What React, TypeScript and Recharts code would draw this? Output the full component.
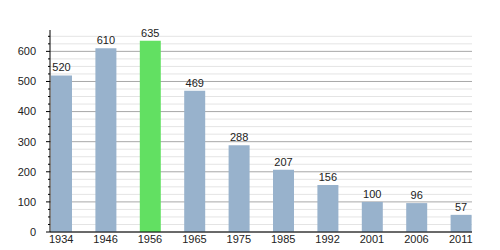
import { BarChart, Bar, XAxis, YAxis, CartesianGrid, Cell, LabelList } from "recharts";

const years = ["1934", "1946", "1956", "1965", "1975", "1985", "1992", "2001", "2006", "2011"];
const population = [520, 610, 635, 469, 288, 207, 156, 100, 96, 57];
const highlightYear = "1956";
const majorTicks = [0, 100, 200, 300, 400, 500, 600];
const minorTicks = [25, 50, 75, 125, 150, 175, 225, 250, 275, 325, 350, 375, 425, 450, 475, 525, 550, 575, 625, 650];
const allTicks = [...majorTicks, ...minorTicks].sort((a, b) => a - b);

const data = years.map((year, i) => ({ year, value: population[i] }));

const font = "'Liberation Sans', Arial, sans-serif";

function YTick(props: any) {
  const { x, y, payload } = props;
  const major = payload.value % 100 === 0;
  return (
    <g>
      <line x1={x - (major ? 4 : 2)} x2={x} y1={y} y2={y} stroke="#000" strokeWidth={1} />
      {major && (
        <text x={x - 14} y={y} dy="0.35em" textAnchor="end" fontSize={11} fontFamily={font} fill="#222">
          {payload.value}
        </text>
      )}
    </g>
  );
}

export default function App() {
  return (
    <div style={{ position: "absolute", left: 0, top: 0 }}>
      <BarChart
        width={500}
        height={250}
        data={data}
        margin={{ top: 30, right: 28, left: 0, bottom: 0 }}
      >
        <CartesianGrid horizontalValues={minorTicks} vertical={false} stroke="#e4e4e4" />
        <CartesianGrid horizontalValues={majorTicks} vertical={false} stroke="#a8a8a8" />
        <XAxis
          dataKey="year"
          height={18}
          tickLine={false}
          tickSize={0}
          tickMargin={3}
          padding={{ left: -11, right: -11 }}
          axisLine={{ stroke: "#000" }}
          tick={{ fontSize: 11, fontFamily: font, fill: "#222" }}
          interval={0}
        />
        <YAxis
          width={50}
          domain={[0, 671]}
          ticks={allTicks}
          interval={0}
          tickLine={false}
          tickSize={0}
          tickMargin={0}
          axisLine={{ stroke: "#000" }}
          tick={<YTick />}
        />
        <Bar dataKey="value" barSize={21} isAnimationActive={false}>
          {data.map((d) => (
            <Cell key={d.year} fill={d.year === highlightYear ? "#62e062" : "#98b2cc"} />
          ))}
          <LabelList dataKey="value" position="top" offset={4} fontSize={11} fontFamily={font} fill="#222" />
        </Bar>
      </BarChart>
    </div>
  );
}
